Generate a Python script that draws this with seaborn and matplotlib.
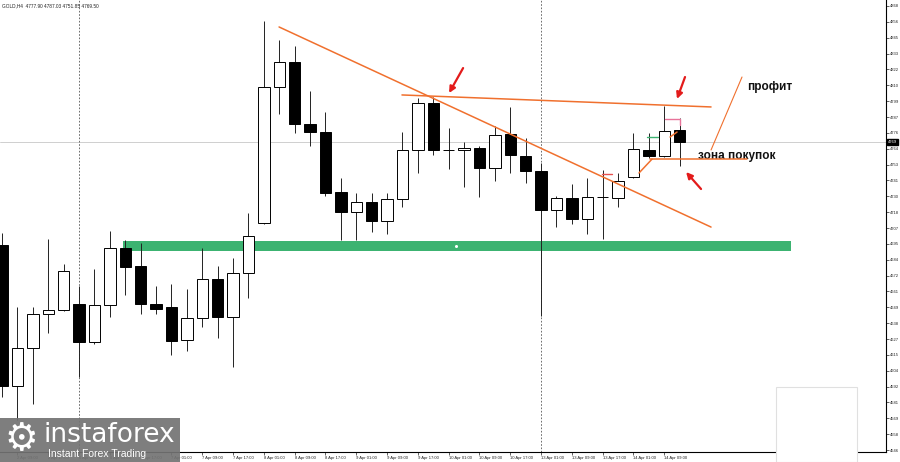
import numpy as np
import pandas as pd
import matplotlib
matplotlib.use("Agg")
import matplotlib.pyplot as plt
import matplotlib.transforms as mtransforms
from matplotlib.patches import Rectangle
import seaborn as sns

# GOLD H4 candles
opens = [4694.7, 4592.4, 4620.0, 4644.6, 4647.5, 4651.9, 4624.3, 4651.2, 4692.5, 4679.4,
         4651.9, 4649.7, 4625.8, 4641.7, 4670.0, 4642.5, 4674.4, 4710.6, 4809.3, 4827.4,
         4782.4, 4776.6, 4733.1, 4718.6, 4725.9, 4712.1, 4728.0, 4763.6, 4797.7, 4763.6,
         4763.6, 4765.0, 4750.5, 4775.2, 4759.2, 4748.3, 4720.1, 4728.8, 4713.5, 4729.5,
         4728.8, 4744.0, 4763.6, 4759.2, 4777.9]
highs = [4703.4, 4649.7, 4649.7, 4699.0, 4680.9, 4664.9, 4677.3, 4704.8, 4698.3, 4696.1,
         4664.9, 4666.4, 4662.8, 4692.5, 4679.4, 4685.2, 4717.9, 4857.1, 4843.3, 4839.0,
         4806.4, 4791.1, 4743.3, 4732.4, 4732.4, 4732.4, 4776.6, 4801.3, 4802.0, 4779.5,
         4769.4, 4766.5, 4781.0, 4794.8, 4772.3, 4754.1, 4730.2, 4738.9, 4743.3, 4749.1,
         4746.9, 4775.9, 4775.9, 4795.5, 4787.0]
lows = [4584.4, 4567.8, 4579.4, 4630.9, 4646.8, 4599.0, 4622.9, 4642.5, 4658.4, 4644.6,
        4644.6, 4614.9, 4617.8, 4635.2, 4627.2, 4606.2, 4656.2, 4709.9, 4789.7, 4775.9,
        4766.5, 4730.2, 4698.3, 4698.3, 4704.1, 4702.6, 4722.2, 4746.9, 4759.9, 4749.8,
        4736.7, 4729.5, 4741.1, 4746.9, 4739.6, 4643.2, 4707.7, 4709.9, 4702.6, 4699.0,
        4722.2, 4743.3, 4757.8, 4758.5, 4751.9]
closes = [4592.4, 4620.0, 4644.6, 4647.5, 4675.8, 4624.3, 4651.2, 4692.5, 4678.7, 4651.9,
          4648.3, 4625.1, 4641.7, 4670.0, 4642.5, 4674.4, 4701.2, 4809.3, 4827.4, 4782.4,
          4776.6, 4732.4, 4718.6, 4725.9, 4712.1, 4728.0, 4763.6, 4797.7, 4763.6, 4763.4,
          4765.0, 4750.5, 4774.4, 4759.9, 4748.3, 4720.1, 4728.8, 4713.5, 4729.5, 4729.2,
          4741.1, 4764.3, 4759.2, 4777.3, 4769.5]

time_ticks = [1, 3, 5, 7, 9, 11, 13, 15, 17, 19, 21, 23, 25, 27, 29, 31, 33, 35, 37, 39, 41, 43]
time_labels = ["2 Apr 09:00", "2 Apr 17:00", "6 Apr 01:00", "6 Apr 09:00", "6 Apr 17:00",
               "7 Apr 01:00", "7 Apr 09:00", "7 Apr 17:00", "8 Apr 01:00", "8 Apr 09:00",
               "8 Apr 17:00", "9 Apr 01:00", "9 Apr 09:00", "9 Apr 17:00", "10 Apr 01:00",
               "10 Apr 09:00", "10 Apr 17:00", "13 Apr 01:00", "13 Apr 09:00", "13 Apr 17:00",
               "14 Apr 01:00", "14 Apr 09:00"]
price_ticks = [4868, 4856.5, 4845, 4833.5, 4822, 4810.5, 4799, 4787.5, 4776, 4764.5,
               4753, 4741.5, 4730, 4718.5, 4707, 4695.5, 4684, 4672.5, 4661, 4649.5,
               4638, 4626.5, 4615, 4603.5, 4592, 4580.5, 4569, 4557.5, 4546]
price_labels = ["4868", "4856", "4845", "4833", "4822", "4810", "4799", "4787",
                "4776", "4764", "4753", "4741", "4730", "4718", "4707", "4695",
                "4684", "4672", "4661", "4649", "4638", "4627", "4615", "4604",
                "4592", "4581", "4569", "4558", "4546"]
last_price = 4769.5
separators = [5, 35]

# support zone (green band)
zone_x = [7.86, 51.2]
zone_low, zone_high = 4690.3, 4697.6

# drawn lines: (x0, y0, x1, y1)
trend_lines = [(17.99, 4852.8, 46.04, 4707.7),
               (25.97, 4803.5, 46.04, 4794.8),
               (42.08, 4757.0, 48.38, 4757.0),
               (41.36, 4746.9, 42.21, 4757.0),
               (43.38, 4773.0, 43.83, 4776.6)]
profit_line = (46.04, 4763.6, 48.05, 4816.5)
# red arrows: (tail x, tail y, head x, head y)
arrows = [(29.94, 4823.0, 29.03, 4804.9),
          (44.35, 4816.5, 43.83, 4800.6),
          (45.39, 4735.3, 44.42, 4747.6)]

df = pd.DataFrame({"open": opens, "high": highs, "low": lows, "close": closes})
df["idx"] = np.arange(len(df))
bull = df["close"] >= df["open"]

sns.set_style("white")
plt.rcParams["font.family"] = ["Liberation Sans", "DejaVu Sans"]

fig = plt.figure(figsize=(9, 4.62), dpi=100)
ax = fig.add_axes([0, 10 / 462, 886 / 900, 452 / 462])
ax.set_xlim(-0.13, 57.4)
ax.set_ylim(4544.6, 4872.35)

ax.axhline(last_price, color="#c8c8c8", lw=0.6, zorder=1)
for s in separators:
    ax.axvline(s, color="#555555", lw=0.6, ls=(0, (2, 2)), zorder=1)

ax.fill_between(zone_x, zone_low, zone_high, color="#3cb371", lw=0, zorder=1)
ax.plot([29.5], [4694], marker="o", ms=1.2, color="white", zorder=2)

# candles
ax.vlines(df["idx"], df["low"], df["high"], color="#222222", lw=0.7, zorder=2)
body = (df["close"] - df["open"]).abs().clip(lower=0.5)
ax.bar(df["idx"], body, bottom=np.minimum(df["open"], df["close"]), width=0.74,
       color=np.where(bull, "white", "black"), edgecolor="black", lw=0.7, zorder=3)

orange = "#f0702e"
for x0, y0, x1, y1 in trend_lines:
    sns.lineplot(x=[x0, x1], y=[y0, y1], ax=ax, color=orange, lw=1.1, sort=False,
                 estimator=None, zorder=4)
x0, y0, x1, y1 = profit_line
sns.lineplot(x=[x0, x1], y=[y0, y1], ax=ax, color=orange, lw=0.8, sort=False,
             estimator=None, zorder=4)

# small marks near the last candles
ax.plot([43.05, 44.03, 44.03], [4786.0, 4786.0, 4782.0], color="#e8739a", lw=1.0, zorder=4)
ax.plot([41.88, 42.6], [4772.7, 4772.7], color="#3cb371", lw=1.0, zorder=4)
ax.plot([38.96, 39.6], [4746.2, 4746.2], color="#e8504f", lw=1.0, zorder=4)

for tx, ty, hx, hy in arrows:
    ax.annotate("", xy=(hx, hy), xytext=(tx, ty),
                arrowprops=dict(arrowstyle="-|>", color="#e31b1b", lw=1.6,
                                mutation_scale=9, shrinkA=0, shrinkB=0), zorder=5)

ax.text(48.4, 4809.3, "профит", fontsize=8.5, fontweight="bold", color="#111111",
        va="center", ha="left")
ax.text(45.2, 4759.2, "зона покупок", fontsize=8.5, fontweight="bold", color="#111111",
        va="center", ha="left")

# axes styling like the terminal
for side in ["top", "left"]:
    ax.spines[side].set_visible(False)
for side in ["right", "bottom"]:
    ax.spines[side].set_color("black")
    ax.spines[side].set_linewidth(0.8)
ax.yaxis.tick_right()
ax.set_yticks(price_ticks)
ax.set_yticklabels(price_labels)
ax.set_xticks(time_ticks)
ax.set_xticklabels(time_labels)
ax.tick_params(axis="y", right=True, length=2, width=0.5, pad=0.8, labelsize=3.0, colors="#222222")
ax.tick_params(axis="x", bottom=True, length=2, width=0.5, pad=1, labelsize=3.0, colors="#222222")
for lab in ax.get_xticklabels():
    lab.set_ha("left")
ax.set_xlabel("")
ax.set_ylabel("")

trans = mtransforms.blended_transform_factory(ax.transAxes, ax.transData)
ax.text(1.002, last_price, "4769", transform=trans, fontsize=3.0, color="white",
        va="center", ha="left", clip_on=False,
        bbox=dict(boxstyle="square,pad=0.2", fc="black", ec="black"))

fig.text(0.002, 1 - 6 / 462, "GOLD,H4  4777.90 4787.03 4751.85 4769.50",
         fontsize=3.4, color="#222222", va="center", ha="left")

# watermark and covered box
fig.patches.append(Rectangle((0, 0), 180 / 900, 44 / 462, transform=fig.transFigure,
                             fc="#737373", ec="none", alpha=0.92, zorder=5))
fig.text(4 / 900, 22 / 462, "\u2699", fontsize=27, color="white", va="center", ha="left",
         family="DejaVu Sans", zorder=6)
fig.text(44 / 900, 27 / 462, "instaforex", fontsize=19, color="white", va="center",
         ha="left", family="DejaVu Sans", zorder=6)
fig.text(48 / 900, 8 / 462, "Instant Forex Trading", fontsize=7.5, color="white",
         va="center", ha="left", zorder=6)
fig.patches.append(Rectangle((776 / 900, 0), 81 / 900, 75 / 462, transform=fig.transFigure,
                             fc="white", ec="#e0e0e0", lw=0.8, zorder=5))

fig.savefig("out.png", dpi=100)
